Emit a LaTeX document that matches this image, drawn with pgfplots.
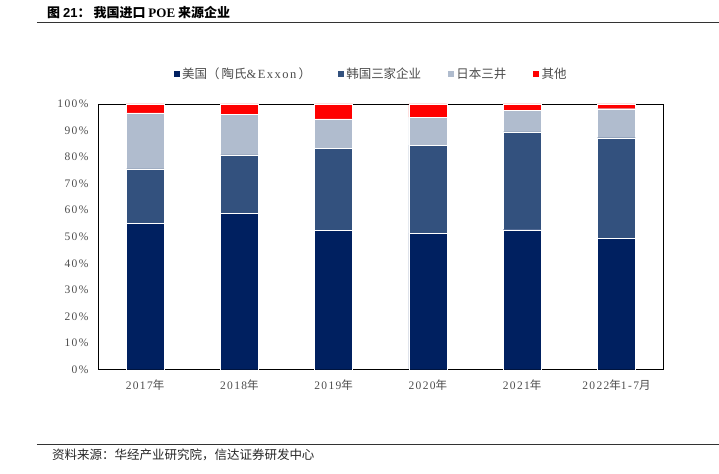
\documentclass[border=0pt]{standalone}
\usepackage{pgfplots}
\pgfplotsset{compat=1.18}
\usepackage{fontspec}
\setmainfont{Liberation Serif}
\newfontfamily\cjk{Noto Sans CJK SC}
\newfontfamily\sans{Liberation Sans}
\newfontfamily\tickfont{Liberation Serif}[LetterSpace=12]

\definecolor{usa}{HTML}{002060}
\definecolor{kor}{HTML}{33517E}
\definecolor{jpn}{HTML}{B0BCCE}
\definecolor{oth}{HTML}{FF0000}

\begin{document}
\begin{tikzpicture}[x=1pt,y=1pt]
\path (0,0) rectangle (719,474);
% title and rules
\node[anchor=west,font=\fontsize{13}{13}\selectfont,inner sep=0pt] at (47,461) {{\cjk\bfseries 图 }{\sans\bfseries 21}{\cjk\bfseries ： 我国进口 }{\rmfamily\bfseries POE}{\cjk\bfseries\ 来源企业}};
\draw[line width=1pt,black!80] (37,451) -- (719,451);
\draw[line width=0.8pt,black!80] (37,29) -- (719,29);
\node[anchor=west,font=\fontsize{12.5}{12.5}\cjk\itshape,black!85,inner sep=0pt] at (52,19) {资料来源：华经产业研究院，信达证券研发中心};

\begin{axis}[
  at={(98pt,104pt)}, anchor=south west,
  scale only axis, width=566pt, height=266pt,
  ybar stacked, bar width=38pt,
  xmin=-0.5, xmax=5.5, ymin=0, ymax=100,
  xtick=data,
  xticklabels={2017{\cjk 年},2018{\cjk 年},2019{\cjk 年},2020{\cjk 年},2021{\cjk 年},2022{\cjk 年}1-7{\cjk 月}},
  ytick={0,10,...,100},
  yticklabel={\pgfmathprintnumber{\tick}\%},
  /pgf/number format/assume math mode=true,
  tick style={draw=none},
  axis line style={black, line width=0.8pt},
  tick label style={font=\fontsize{11.5}{11.5}\tickfont, text=black!70},
  xticklabel style={yshift=-7pt},
  yticklabel style={xshift=-6pt},
  legend style={at={(0.5,1)}, anchor=south, xshift=-10pt, yshift=20pt, draw=none,
    legend columns=4, font=\fontsize{12.5}{12.5}\cjk\color{black!70},
    /tikz/every even column/.append style={column sep=24pt}},
  legend image code/.code={\fill[#1] (0pt,-3.5pt) rectangle (7pt,3.5pt);},
  every axis plot/.append style={draw=white, line width=0.3pt},
]
\addplot[fill=usa] coordinates {(0,55.0) (1,58.9) (2,52.4) (3,51.4) (4,52.7) (5,49.4)};
\addplot[fill=kor] coordinates {(0,20.6) (1,21.9) (2,30.9) (3,33.1) (4,36.8) (5,37.9)};
\addplot[fill=jpn] coordinates {(0,21.0) (1,15.4) (2,11.1) (3,10.5) (4,8.2) (5,10.9)};
\addplot[fill=oth] coordinates {(0,3.4) (1,3.8) (2,5.6) (3,5.0) (4,2.3) (5,1.8)};
\legend{美国（\,陶氏{\tickfont\&Exxon}\,）,韩国三家企业,日本三井,其他}
\end{axis}
\end{tikzpicture}
\end{document}
